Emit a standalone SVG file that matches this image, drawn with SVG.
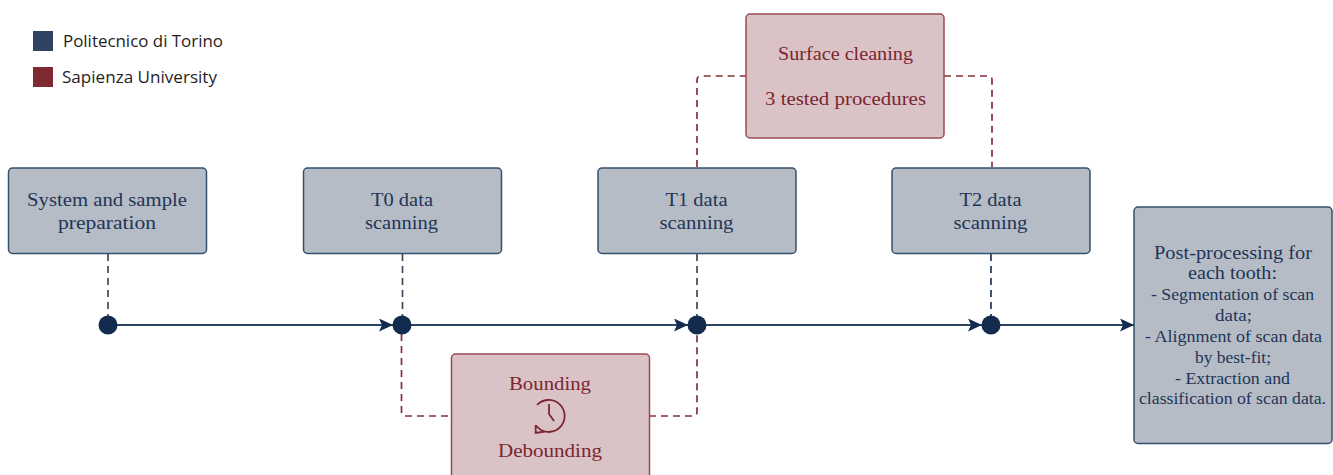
<svg xmlns="http://www.w3.org/2000/svg" width="1333" height="475" viewBox="0 0 1333 475">
<style>
.n{fill:#b5bcc5;stroke:#34506f;stroke-width:1.5}
.r{fill:#dac3c6;stroke:#9b4a52;stroke-width:1.5}
.t{font-family:"Liberation Serif",serif;font-size:19px;text-anchor:middle;fill:#1f3557}
.s{font-size:17.500px}
.m{fill:#7c2530}
.l{font-family:"Open Sans",sans-serif;font-size:17px;fill:#1e1e1e}
.d{fill:none;stroke-width:1.700;stroke-dasharray:7 5}
.dn{stroke:#3f4a5c}
.dr{stroke:#84303a}
.a{fill:none;stroke:#2b4263;stroke-width:2;marker-end:url(#h)}
.c{fill:#132b4f}
</style>
<defs><marker id="h" markerUnits="userSpaceOnUse" markerWidth="16" markerHeight="14" refX="14" refY="6.500" orient="auto"><path d="M0 0L14 6.500L0 13L3 6.500Z" fill="#132b4f"/></marker></defs>
<g id="connectors">
<path class="d dn" d="M108 254V318"/>
<path class="d dn" d="M402.500 254V318"/>
<path class="d dn" d="M697 254V318"/>
<path class="d" stroke="#1f3557" d="M991 254V318"/>
<path class="d dr" d="M401.500 334V412Q401.500 416 405 416H451"/>
<path class="d dr" d="M649 416H693Q697 416 697 412V334"/>
<path class="d dr" d="M697 167V80Q697 76 701 76H746"/>
<path class="d dr" d="M944 76H988Q992 76 992 80V167"/>
<path class="a" d="M108 325H393"/>
<path class="a" d="M402 325H688"/>
<path class="a" d="M697 325H982"/>
<path class="a" d="M991 325H1134"/>
<circle class="c" cx="108" cy="325" r="9.500"/>
<circle class="c" cx="402" cy="325" r="9.500"/>
<circle class="c" cx="697" cy="325" r="9.500"/>
<circle class="c" cx="991" cy="325" r="9.500"/>
</g>
<g id="legend">
<rect x="33" y="31" width="20" height="20" fill="#2f4463"/>
<rect x="33" y="67" width="20" height="20" fill="#7f2a33"/>
<text class="l" x="63" y="47" textLength="160" lengthAdjust="spacingAndGlyphs">Politecnico di Torino</text>
<text class="l" x="62" y="83" textLength="155" lengthAdjust="spacingAndGlyphs">Sapienza University</text>
</g>
<g id="system"><rect class="n" x="8.500" y="168" width="198" height="85.500" rx="4"/>
<text class="t" x="107" y="206" textLength="160" lengthAdjust="spacingAndGlyphs">System and sample</text><text class="t" x="107" y="229" textLength="98" lengthAdjust="spacingAndGlyphs">preparation</text></g>
<g id="t0"><rect class="n" x="303.500" y="168" width="198" height="85.500" rx="4"/>
<text class="t" x="402" y="206" textLength="62" lengthAdjust="spacingAndGlyphs">T0 data</text><text class="t" x="401.500" y="229" textLength="73" lengthAdjust="spacingAndGlyphs">scanning</text></g>
<g id="t1"><rect class="n" x="598" y="168" width="198" height="85.500" rx="4"/>
<text class="t" x="696.500" y="206" textLength="62" lengthAdjust="spacingAndGlyphs">T1 data</text><text class="t" x="696.500" y="229" textLength="74" lengthAdjust="spacingAndGlyphs">scanning</text></g>
<g id="t2"><rect class="n" x="892" y="168" width="198" height="85.500" rx="4"/>
<text class="t" x="990.500" y="206" textLength="62" lengthAdjust="spacingAndGlyphs">T2 data</text><text class="t" x="990.500" y="229" textLength="74" lengthAdjust="spacingAndGlyphs">scanning</text></g>
<g id="post"><rect class="n" x="1134" y="207" width="198" height="236.500" rx="4"/>
<text class="t" x="1233" y="259" textLength="158" lengthAdjust="spacingAndGlyphs">Post-processing for</text><text class="t" x="1232.500" y="279" textLength="89" lengthAdjust="spacingAndGlyphs">each tooth:</text>
<text class="t s" x="1232.500" y="300" textLength="163" lengthAdjust="spacingAndGlyphs">- Segmentation of scan</text><text class="t s" x="1233.500" y="321" textLength="37" lengthAdjust="spacingAndGlyphs">data;</text>
<text class="t s" x="1233.500" y="342" textLength="177" lengthAdjust="spacingAndGlyphs">- Alignment of scan data</text><text class="t s" x="1233" y="363" textLength="76" lengthAdjust="spacingAndGlyphs">by best-fit;</text>
<text class="t s" x="1232.500" y="384" textLength="115" lengthAdjust="spacingAndGlyphs">- Extraction and</text><text class="t s" x="1232.500" y="404" textLength="187" lengthAdjust="spacingAndGlyphs">classification of scan data.</text></g>
<g id="cleaning"><rect class="r" x="746" y="14" width="198" height="124" rx="4"/>
<text class="t m" x="845.500" y="60" textLength="135" lengthAdjust="spacingAndGlyphs">Surface cleaning</text><text class="t m" x="845.500" y="105" textLength="161" lengthAdjust="spacingAndGlyphs">3 tested procedures</text></g>
<g id="bounding"><rect class="r" x="451.500" y="354" width="198" height="130" rx="4"/>
<text class="t m" x="550" y="390" textLength="82" lengthAdjust="spacingAndGlyphs">Bounding</text><text class="t m" x="550" y="457" textLength="104" lengthAdjust="spacingAndGlyphs">Debounding</text>
<path d="M537 405A16 16 0 1 1 541 430Q538 428 536 425.500M535.700 425V433L545 431.500M549 404V414L554 421" fill="none" stroke="#7c2530" stroke-width="1.800"/></g>
</svg>
